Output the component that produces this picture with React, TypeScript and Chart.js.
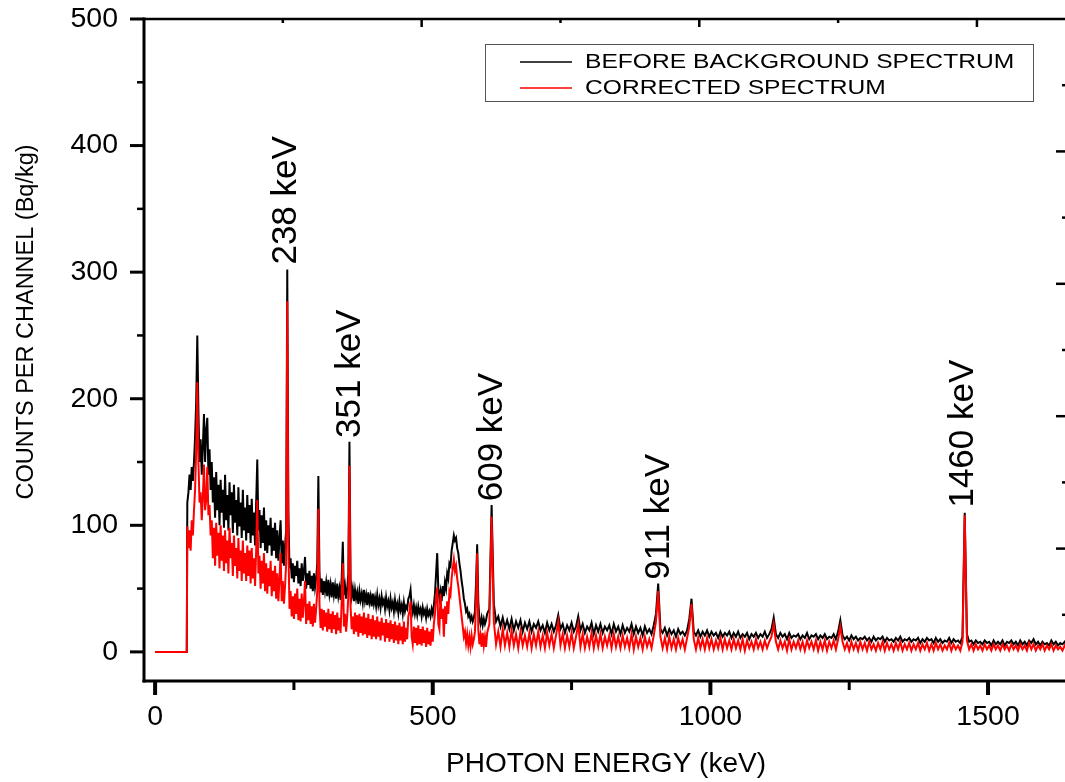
import React, { useEffect, useRef } from "react";
import { Chart, registerables } from "chart.js";

Chart.register(...registerables);

const FONT = "'Liberation Sans', Arial, sans-serif";

// ---- axis ticks ----
const X_TICKS = [0, 500, 1000, 1500];
const X_MINOR = [250, 750, 1250];
const Y_TICKS = [0, 100, 200, 300, 400, 500];
const Y_MINOR = [50, 150, 250, 350, 450];
const TOP_TICKS = [500, 1000, 1500];
const TOP_MINOR = [250, 750, 1250];
const RIGHT_TICKS = [100, 200, 300, 400];
const RIGHT_MINOR = [50, 150, 250, 350, 450];

// ---- series labels ----
const SERIES_LABELS = ["CORRECTED SPECTRUM", "BEFORE BACKGROUND SPECTRUM"];
const SERIES_COLORS = ["#ff0000", "#000000"];

// ---- spectrum: leading empty channels ----
const LEAD_E = [0, 57];
const LEAD_V = [0, 0];

// ---- segment A: 58 keV .. 596 keV, channel width 2 keV ----
const SEG_A_START = 58;
const SEG_A_STEP = 2;
const BLACK_A = [
  118, 126, 140, 128, 146, 135, 150, 170, 198, 250,
  190, 150, 168, 140, 162, 188, 150, 175, 185, 140,
  160, 128, 150, 118, 138, 106, 142, 112, 132, 100,
  136, 110, 128, 98, 140, 104, 124, 96, 134, 108,
  126, 94, 132, 102, 120, 92, 130, 99, 118, 90,
  128, 96, 114, 88, 124, 94, 116, 86, 121, 92,
  110, 84, 118, 152, 96, 112, 82, 108, 86, 114,
  80, 104, 78, 100, 84, 106, 76, 98, 80, 102,
  74, 96, 72, 90, 104, 70, 88, 68, 84, 96,
  302, 110, 66, 74, 58, 70, 55, 68, 60, 72,
  54, 66, 52, 70, 56, 64, 75, 50, 62, 53,
  64, 50, 60, 48, 62, 51, 58, 70, 139, 62,
  47, 58, 45, 56, 48, 55, 44, 57, 46, 53,
  43, 55, 45, 52, 42, 54, 44, 50, 41, 58,
  87, 45, 52, 42, 50, 62, 166, 58, 44, 50,
  40, 49, 42, 47, 38, 48, 41, 46, 39, 49,
  40, 45, 37, 47, 39, 44, 36, 46, 38, 43,
  36, 45, 37, 42, 35, 44, 38, 41, 34, 43,
  36, 40, 33, 42, 35, 39, 32, 41, 34, 38,
  31, 40, 33, 37, 30, 39, 32, 36, 34, 42,
  44, 49, 36, 31, 37, 30, 35, 29, 36, 31,
  34, 28, 35, 30, 33, 27, 34, 29, 32, 28,
  34, 30, 37, 46, 62, 78, 50, 42, 48, 40,
  52, 44, 55, 50, 62, 58, 70, 68, 80, 86,
  92, 88, 90, 82, 78, 70, 64, 56, 50, 42,
  38, 32, 34, 28, 30, 25, 28, 24, 27, 32,
  55, 85, 40, 26, 22, 27, 21, 26, 22, 25,
];
const RED_A = [
  99, 82, 96, 80, 104, 92, 112, 128, 160, 213,
  150, 118, 126, 104, 122, 148, 112, 120, 146, 108,
  116, 92, 104, 74, 98, 68, 102, 76, 94, 66,
  100, 72, 92, 64, 96, 70, 88, 62, 98, 74,
  86, 60, 92, 68, 82, 58, 90, 64, 80, 56,
  88, 62, 78, 56, 84, 60, 80, 54, 82, 58,
  74, 52, 80, 120, 62, 76, 50, 72, 54, 78,
  48, 70, 46, 66, 52, 72, 44, 64, 48, 68,
  42, 62, 40, 58, 78, 40, 56, 38, 52, 70,
  277, 84, 34, 48, 28, 44, 26, 46, 30, 50,
  25, 42, 24, 46, 27, 40, 56, 22, 38, 25,
  40, 22, 36, 20, 38, 23, 34, 48, 113, 38,
  19, 34, 17, 33, 20, 31, 16, 34, 18, 30,
  15, 32, 18, 29, 14, 31, 17, 27, 15, 40,
  70, 20, 30, 16, 28, 44, 147, 36, 18, 28,
  14, 31, 16, 29, 12, 30, 15, 28, 13, 31,
  14, 27, 11, 30, 13, 26, 10, 29, 12, 25,
  10, 28, 12, 24, 9, 27, 13, 23, 8, 26,
  11, 23, 8, 25, 10, 22, 7, 24, 9, 21,
  6, 23, 9, 20, 6, 24, 8, 19, 10, 28,
  32, 40, 12, 6, 20, 7, 19, 5, 21, 6,
  18, 5, 20, 7, 17, 4, 19, 6, 16, 5,
  18, 8, 22, 30, 44, 51, 22, 18, 46, 26,
  34, 12, 36, 22, 40, 30, 48, 45, 58, 66,
  73, 64, 68, 58, 52, 44, 36, 28, 20, 12,
  16, 7, 14, 5, 12, 4, 13, 6, 10, 16,
  40, 78, 18, 6, 13, 4, 15, 5, 12, 4,
];

// ---- segment B: 598 keV .. 1650 keV, channel width 4 keV ----
const SEG_B_START = 598;
const SEG_B_STEP = 4;
const BLACK_B = [
  30, 34, 116, 38, 24, 28, 20, 27, 19, 25,
  18, 26, 17, 24, 19, 25, 16, 23, 18, 24,
  16, 22, 19, 24, 17, 21, 15, 23, 17, 22,
  16, 21, 29, 18, 22, 15, 21, 17, 23, 16,
  20, 28, 17, 22, 15, 20, 17, 23, 14, 21,
  16, 22, 15, 20, 17, 21, 14, 22, 16, 20,
  14, 21, 15, 19, 16, 22, 14, 20, 15, 19,
  13, 20, 15, 18, 14, 21, 30, 54, 18, 15,
  19, 13, 18, 14, 17, 12, 18, 14, 16, 13,
  17, 26, 42, 16, 13, 17, 12, 16, 13, 17,
  12, 16, 13, 15, 11, 16, 12, 15, 13, 16,
  11, 15, 12, 16, 11, 14, 12, 15, 10, 14,
  12, 15, 11, 14, 12, 16, 11, 14, 18, 27,
  14, 11, 15, 12, 14, 10, 15, 11, 13, 12,
  14, 10, 13, 11, 15, 10, 13, 12, 14, 10,
  13, 11, 14, 10, 12, 11, 14, 10, 16, 25,
  13, 10, 12, 9, 13, 10, 12, 9, 11, 10,
  12, 9, 11, 8, 12, 9, 11, 10, 12, 8,
  11, 9, 10, 8, 11, 9, 12, 8, 10, 9,
  11, 8, 10, 9, 11, 7, 10, 8, 11, 9,
  10, 7, 11, 8, 10, 7, 9, 8, 11, 7,
  10, 8, 9, 7, 12, 110, 14, 8, 9, 6,
  9, 7, 8, 6, 9, 7, 8, 5, 9, 6,
  8, 6, 9, 5, 8, 7, 9, 6, 8, 5,
  9, 6, 8, 5, 9, 7, 10, 6, 8, 5,
  8, 6, 7, 5, 9, 6, 8, 5, 7, 6,
  8, 5, 7, 6,
];
const RED_B = [
  15, 22, 107, 24, 6, 16, 4, 18, 5, 15,
  4, 17, 5, 14, 3, 16, 5, 13, 4, 15,
  3, 14, 5, 16, 4, 13, 3, 15, 5, 14,
  3, 13, 24, 5, 14, 3, 13, 4, 15, 3,
  12, 22, 4, 14, 3, 12, 4, 15, 3, 13,
  4, 14, 3, 12, 5, 13, 3, 14, 4, 12,
  3, 13, 4, 11, 3, 14, 2, 12, 4, 11,
  2, 12, 4, 10, 3, 13, 24, 48, 12, 3,
  11, 2, 12, 3, 10, 2, 11, 4, 10, 2,
  11, 20, 38, 10, 2, 11, 3, 10, 2, 11,
  3, 10, 2, 9, 3, 11, 2, 10, 3, 9,
  2, 10, 3, 9, 2, 10, 1, 9, 3, 8,
  2, 10, 3, 8, 2, 9, 3, 8, 12, 22,
  8, 2, 9, 3, 8, 1, 10, 2, 8, 3,
  9, 2, 8, 1, 9, 3, 8, 2, 9, 1,
  8, 2, 9, 1, 8, 3, 9, 2, 10, 20,
  8, 2, 7, 1, 8, 2, 7, 1, 8, 2,
  7, 1, 8, 2, 6, 1, 7, 2, 8, 1,
  7, 2, 6, 1, 7, 2, 8, 1, 6, 2,
  7, 1, 6, 2, 7, 1, 6, 2, 7, 1,
  6, 1, 7, 2, 6, 1, 5, 2, 7, 1,
  6, 2, 5, 1, 8, 108, 9, 2, 6, 1,
  6, 2, 5, 1, 6, 2, 5, 1, 6, 2,
  5, 1, 6, 2, 5, 1, 6, 2, 5, 1,
  6, 2, 5, 1, 7, 2, 6, 1, 5, 2,
  6, 1, 5, 2, 6, 1, 5, 2, 4, 1,
  5, 2, 4, 1,
];

// ---- peak annotations ----
const PEAK_LABELS = ["238 keV", "351 keV", "609 keV", "911 keV", "1460 keV"];
const PEAK_E = [236, 351, 607, 908, 1456];
const PEAK_Y = [306, 169, 119, 57, 114];

const X_TITLE = "PHOTON ENERGY (keV)";
const Y_TITLE = "COUNTS PER CHANNEL (Bq/kg)";

function buildSeries(a: number[], b: number[]) {
  const pts: { x: number; y: number }[] = LEAD_E.map((e, i) => ({ x: e, y: LEAD_V[i] }));
  a.forEach((v, i) => pts.push({ x: SEG_A_START + i * SEG_A_STEP, y: v }));
  b.forEach((v, i) => pts.push({ x: SEG_B_START + i * SEG_B_STEP, y: v }));
  return pts;
}

const framePlugin = {
  id: "frame",
  afterDraw(chart: any) {
    const { ctx, chartArea: ca, scales } = chart;
    const sx = scales.x, sy = scales.y, sx2 = scales.x2, sy2 = scales.y2;
    ctx.save();
    ctx.strokeStyle = "#000";
    ctx.fillStyle = "#000";
    ctx.lineCap = "butt";
    const seg = (a: number, b: number, c: number, d: number, w: number) => {
      ctx.lineWidth = w;
      ctx.beginPath();
      ctx.moveTo(a, b);
      ctx.lineTo(c, d);
      ctx.stroke();
    };
    // frame lines
    seg(ca.left, ca.top - 1.5, ca.left, ca.bottom + 1.5, 3);
    seg(ca.left - 1.5, ca.bottom, ca.right + 1.5, ca.bottom, 3);
    seg(ca.left, ca.top, ca.right, ca.top, 2.5);
    seg(ca.right, ca.top, ca.right, ca.bottom, 3);
    // left ticks (outside)
    Y_TICKS.forEach((v) => {
      const p = sy.getPixelForValue(v);
      seg(ca.left - 14, p, ca.left, p, 3);
    });
    Y_MINOR.forEach((v) => {
      const p = sy.getPixelForValue(v);
      seg(ca.left - 7, p, ca.left, p, 2.5);
    });
    // bottom ticks (outside)
    X_TICKS.forEach((v) => {
      const p = sx.getPixelForValue(v);
      seg(p, ca.bottom, p, ca.bottom + 14, 4);
    });
    X_MINOR.forEach((v) => {
      const p = sx.getPixelForValue(v);
      seg(p, ca.bottom, p, ca.bottom + 9, 3);
    });
    // top ticks (inside)
    TOP_TICKS.forEach((v) => {
      const p = sx2.getPixelForValue(v);
      seg(p, ca.top, p, ca.top + 8, 2.5);
    });
    TOP_MINOR.forEach((v) => {
      const p = sx2.getPixelForValue(v);
      seg(p, ca.top, p, ca.top + 4, 2.5);
    });
    // right ticks (inside)
    RIGHT_TICKS.forEach((v) => {
      const p = sy2.getPixelForValue(v);
      seg(ca.right - 12, p, ca.right, p, 2.5);
    });
    RIGHT_MINOR.forEach((v) => {
      const p = sy2.getPixelForValue(v);
      seg(ca.right - 6, p, ca.right, p, 2.5);
    });

    // y axis title
    ctx.save();
    ctx.translate(27, (ca.top + ca.bottom) / 2 - 28);
    ctx.rotate(-Math.PI / 2);
    ctx.font = `23.5px ${FONT}`;
    ctx.textAlign = "center";
    ctx.textBaseline = "middle";
    ctx.fillText(Y_TITLE, 0, 0);
    ctx.restore();

    // peak annotations
    ctx.font = `35px ${FONT}`;
    ctx.textAlign = "left";
    ctx.textBaseline = "middle";
    PEAK_LABELS.forEach((t, i) => {
      const px = sx.getPixelForValue(PEAK_E[i]);
      const py = sy.getPixelForValue(PEAK_Y[i]);
      ctx.save();
      ctx.translate(px, py);
      ctx.rotate(-Math.PI / 2);
      ctx.fillText(t, 0, 0);
      ctx.restore();
    });

    // legend box
    const bx = 485.5, by = 44.5, bw = 548, bh = 57;
    ctx.strokeStyle = "#555";
    ctx.lineWidth = 1;
    ctx.strokeRect(bx, by, bw, bh);
    const rows = [1, 0]; // black first, then red
    rows.forEach((di, r) => {
      const ds = chart.data.datasets[di];
      const yy = 62 + r * 26;
      ctx.strokeStyle = ds.borderColor;
      ctx.lineWidth = 1.5;
      ctx.beginPath();
      ctx.moveTo(520, yy);
      ctx.lineTo(572, yy);
      ctx.stroke();
      ctx.save();
      ctx.translate(585, yy);
      ctx.scale(1.2, 1);
      ctx.fillStyle = "#000";
      ctx.font = `20.5px ${FONT}`;
      ctx.textAlign = "left";
      ctx.textBaseline = "middle";
      ctx.fillText(ds.label, 0, 0);
      ctx.restore();
    });
    ctx.restore();
  },
};

export default function App() {
  const ref = useRef<HTMLCanvasElement | null>(null);
  useEffect(() => {
    if (!ref.current) return;
    const tickFont = { family: FONT, size: 28.5 };
    const chart = new Chart(ref.current, {
      type: "line",
      data: {
        datasets: [
          {
            label: SERIES_LABELS[0],
            data: buildSeries(RED_A, RED_B),
            borderColor: SERIES_COLORS[0],
            borderWidth: 2,
            pointRadius: 0,
            tension: 0,
            fill: false,
          },
          {
            label: SERIES_LABELS[1],
            data: buildSeries(BLACK_A, BLACK_B),
            borderColor: SERIES_COLORS[1],
            borderWidth: 2,
            pointRadius: 0,
            tension: 0,
            fill: false,
          },
        ],
      },
      options: {
        animation: false,
        responsive: false,
        events: [],
        layout: { padding: { left: 0, top: 19, right: 7, bottom: 0 } },
        plugins: { legend: { display: false }, tooltip: { enabled: false } },
        scales: {
          x: {
            type: "linear",
            position: "bottom",
            min: -20,
            max: 1644,
            grid: { display: false, drawTicks: false },
            border: { display: false },
            afterBuildTicks: (s: any) => {
              s.ticks = X_TICKS.map((v) => ({ value: v }));
            },
            afterFit: (s: any) => {
              s.height = 101;
              s.paddingLeft = 0;
              s.paddingRight = 0;
            },
            ticks: {
              color: "#000",
              font: tickFont,
              padding: 19,
              maxRotation: 0,
              autoSkip: false,
              callback: (v: any) => String(v),
            },
            title: {
              display: true,
              text: X_TITLE,
              color: "#000",
              font: { family: FONT, size: 28 },
              padding: { top: 0, bottom: 1 },
            },
          },
          y: {
            type: "linear",
            position: "left",
            min: -23,
            max: 500,
            grid: { display: false, drawTicks: false },
            border: { display: false },
            afterBuildTicks: (s: any) => {
              s.ticks = Y_TICKS.map((v) => ({ value: v }));
            },
            afterFit: (s: any) => {
              s.width = 144;
              s.paddingTop = 0;
              s.paddingBottom = 0;
            },
            ticks: {
              color: "#000",
              font: tickFont,
              padding: 26,
              callback: (v: any) => String(v),
            },
          },
          x2: { type: "linear", position: "top", min: 0, max: 1664, display: false },
          y2: { type: "linear", position: "right", min: 0, max: 500, display: false },
        },
      },
      plugins: [framePlugin],
    });
    return () => chart.destroy();
  }, []);

  return (
    <div
      style={{
        position: "absolute",
        left: 0,
        top: 0,
        width: 1065,
        height: 782,
        overflow: "hidden",
        background: "#fff",
      }}
    >
      <canvas ref={ref} width={1075} height={782} style={{ display: "block" }} />
    </div>
  );
}
